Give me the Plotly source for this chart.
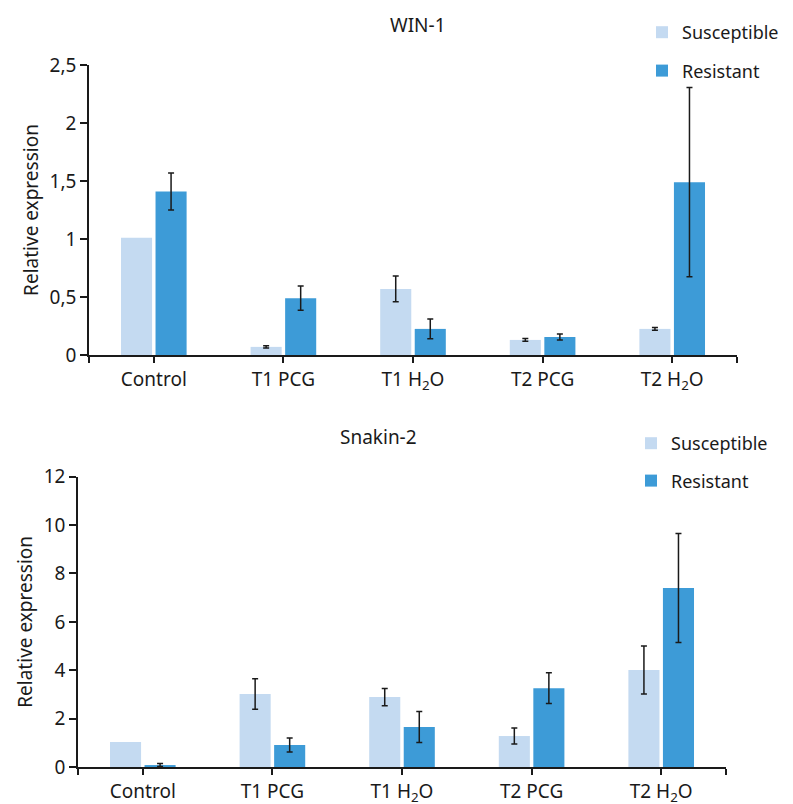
import plotly.graph_objects as go

categories = ["Control", "T1 PCG", "T1 H<sub>2</sub>O", "T2 PCG", "T2 H<sub>2</sub>O"]
series_names = ["Susceptible", "Resistant"]

win1_susceptible = [1.01, 0.07, 0.57, 0.13, 0.225]
win1_susceptible_err = [None, 0.01, 0.11, 0.012, 0.012]
win1_resistant = [1.41, 0.49, 0.225, 0.155, 1.49]
win1_resistant_err = [0.16, 0.105, 0.085, 0.026, 0.815]

snakin2_susceptible = [1.03, 3.02, 2.89, 1.28, 4.01]
snakin2_susceptible_err = [None, 0.63, 0.36, 0.33, 0.99]
snakin2_resistant = [0.08, 0.91, 1.65, 3.26, 7.40]
snakin2_resistant_err = [0.06, 0.29, 0.64, 0.64, 2.25]

titles = ["WIN-1", "Snakin-2"]
y_title = "Relative expression"

light = "#C4DAF1"
dark = "#3D9BD7"
err_color = "#1a1a1a"
FONT = "Noto Sans"
AX_SIZE = 19
LEG_SIZE = 18

W, H = 793, 804
OFF = 8  # page body margin offset
xpos = list(range(len(categories)))

fig = go.Figure()

def add_bars(vals_s, err_s, vals_r, err_r, xa, ya, legend):
    for name, vals, errs, col in [(series_names[0], vals_s, err_s, light),
                                  (series_names[1], vals_r, err_r, dark)]:
        # missing errors -> non-numeric so plotly.js skips drawing the bar
        errs_js = ["NaN" if e is None else e for e in errs]
        fig.add_trace(go.Bar(
            x=xpos, y=vals, name=name, marker=dict(color=col, line=dict(width=0)),
            error_y=dict(type="data", array=errs_js, visible=True, color=err_color,
                         thickness=1.5, width=3),
            xaxis=xa, yaxis=ya, legend=legend, legendgroup=legend + name,
            showlegend=True,
        ))

add_bars(win1_susceptible, win1_susceptible_err, win1_resistant, win1_resistant_err, "x", "y", "legend")
add_bars(snakin2_susceptible, snakin2_susceptible_err, snakin2_resistant, snakin2_resistant_err, "x2", "y2", "legend2")

edge_ticks = [-0.5, len(categories) - 0.5]

axis_common = dict(showgrid=False, zeroline=False, showline=True, linecolor="#1a1a1a",
                   linewidth=1.5, ticks="outside", tickcolor="#1a1a1a", tickwidth=1.5,
                   automargin=False,
                   tickfont=dict(family=FONT, size=AX_SIZE, color="#1a1a1a"))

xaxis_extra = dict(range=[-0.5, 4.5], tickmode="array", tickvals=xpos, ticktext=categories,
                   ticklen=6,
                   minor=dict(tickmode="array", tickvals=edge_ticks, ticks="outside", ticklen=6,
                              tickwidth=1.5, tickcolor="#1a1a1a", showgrid=False))

def px_dom_x(a, b):
    return [(a - OFF) / W, (b - OFF) / W]

def px_dom_y(top, bottom):
    return [1 - (bottom - OFF) / H, 1 - (top - OFF) / H]

def px_x(a):
    return (a - OFF) / W

def px_y(a):
    return 1 - (a - OFF) / H

fig.update_layout(
    width=W, height=H, margin=dict(l=0, r=0, t=0, b=0, autoexpand=False),
    paper_bgcolor="white", plot_bgcolor="white",
    barmode="group", bargap=0.467, bargroupgap=0.1,
    separators=",.",
    font=dict(family=FONT, size=AX_SIZE, color="#1a1a1a"),
    xaxis=dict(domain=px_dom_x(89, 737), anchor="y", **xaxis_extra, **axis_common),
    yaxis=dict(domain=px_dom_y(65, 355), anchor="x", range=[0, 2.5], tickmode="linear",
               tick0=0, dtick=0.5, ticklen=7,
               title=dict(text=y_title, font=dict(family=FONT, size=AX_SIZE), standoff=6),
               **axis_common),
    xaxis2=dict(domain=px_dom_x(78, 726), anchor="y2", **xaxis_extra, **axis_common),
    yaxis2=dict(domain=px_dom_y(476.7, 767), anchor="x2", range=[0, 12], tickmode="linear",
                tick0=0, dtick=2, ticklen=7,
                title=dict(text=y_title, font=dict(family=FONT, size=AX_SIZE), standoff=6),
                **axis_common),
    legend=dict(x=px_x(682 - 40), y=px_y(14), xanchor="left", yanchor="top",
                font=dict(family=FONT, size=LEG_SIZE), tracegroupgap=12, bgcolor="rgba(0,0,0,0)"),
    legend2=dict(x=px_x(671 - 40), y=px_y(425), xanchor="left", yanchor="top",
                 font=dict(family=FONT, size=LEG_SIZE), tracegroupgap=11, bgcolor="rgba(0,0,0,0)"),
    annotations=[
        dict(text=titles[0], x=px_x(418), y=px_y(25), xref="paper", yref="paper",
             showarrow=False, xanchor="center", yanchor="middle",
             font=dict(family=FONT, size=AX_SIZE, color="#1a1a1a")),
        dict(text=titles[1], x=px_x(378), y=px_y(437), xref="paper", yref="paper",
             showarrow=False, xanchor="center", yanchor="middle",
             font=dict(family=FONT, size=AX_SIZE, color="#1a1a1a")),
    ],
)

fig.write_html("out.html")
